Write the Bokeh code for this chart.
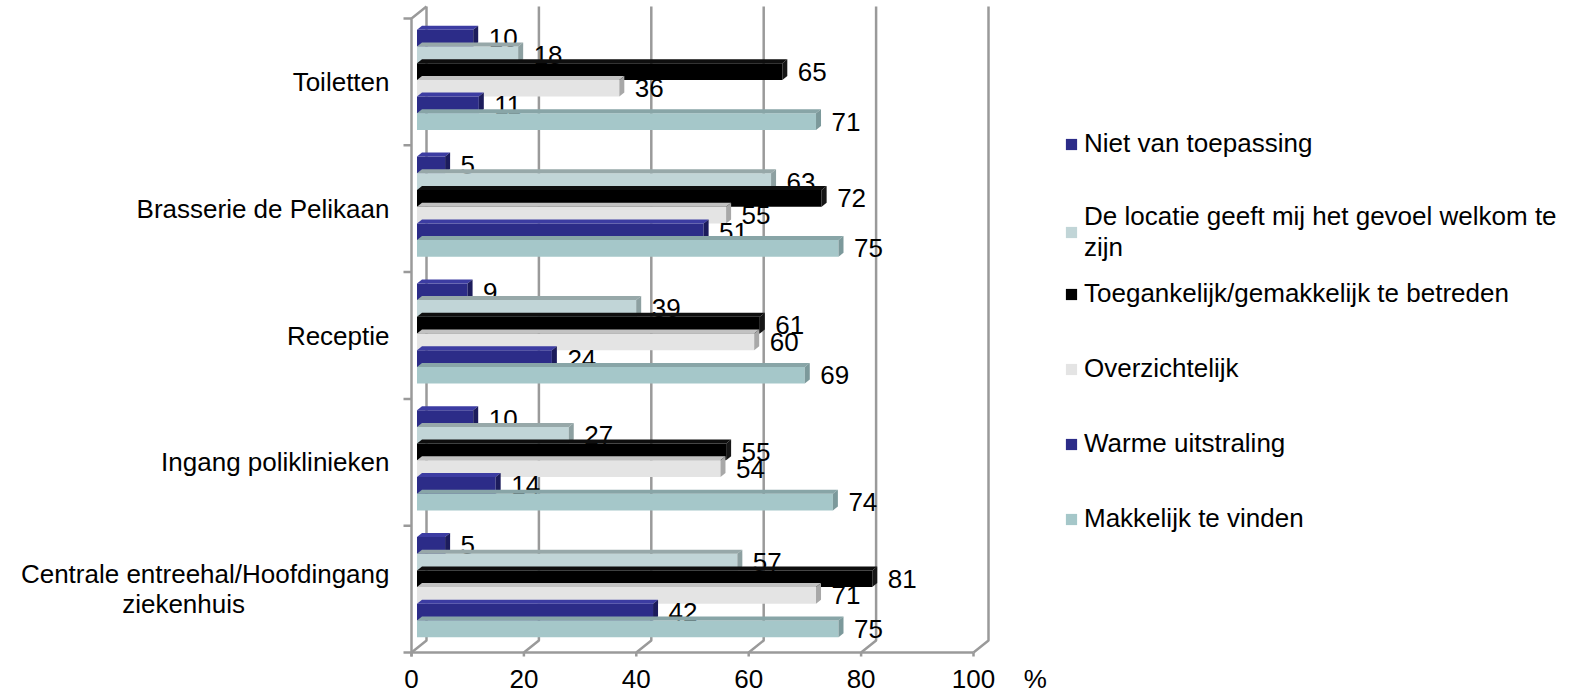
from bokeh.plotting import figure
from bokeh.models import Range1d, FixedTicker, Legend, LegendItem
from bokeh.core.properties import value
from bokeh.embed import file_html
from bokeh.resources import INLINE

# Categories, listed bottom to top on the vertical axis
NBSP = "\u00a0"
categories = [
    "Centrale entreehal/Hoofdingang\nziekenhuis" + NBSP * 20,
    "Ingang poliklinieken",
    "Receptie",
    "Brasserie de Pelikaan",
    "Toiletten",
]

# Series, listed top to bottom inside each group (same order as the legend)
series_names = [
    "Niet van toepassing",
    "De locatie geeft mij het gevoel welkom te\nzijn",
    "Toegankelijk/gemakkelijk te betreden",
    "Overzichtelijk",
    "Warme uitstraling",
    "Makkelijk te vinden",
]

# Percentages per category (same order as `categories`)
niet_van_toepassing = [5, 10, 9, 5, 10]
gevoel_welkom = [57, 27, 39, 63, 18]
toegankelijk = [81, 55, 61, 72, 65]
overzichtelijk = [71, 54, 60, 55, 36]
warme_uitstraling = [42, 14, 24, 51, 11]
makkelijk_te_vinden = [75, 74, 69, 75, 71]

series_values = [niet_van_toepassing, gevoel_welkom, toegankelijk,
                 overzichtelijk, warme_uitstraling, makkelijk_te_vinden]

x_ticks = [0, 20, 40, 60, 80, 100]
UNIT_TICK = 111          # where the "%" unit sits on the value axis

# (front, top, side) face colours for the 3-D bars
face_colors = [
    ("#2C2C88", "#3C3CA2", "#1C1C5C"),
    ("#C1D5D7", "#97A8A9", "#8DA0A1"),
    ("#000000", "#0E0E0E", "#161616"),
    ("#E4E4E4", "#C2C2C2", "#A8A8A8"),
    ("#2C2C88", "#3C3CA2", "#1C1C5C"),
    ("#A5C7C9", "#88A5A7", "#7C999B"),
]

FONT = value("Liberation Sans")
FS = value("26px")
GRID = "#9A9A9A"

# screen scale: pixels per unit on each axis
PX_X = 5.62
PX_Y = 126.8

W, H = 1585, 696
LEFT, BOTTOM = 395, 40
ZERO_X, ZERO_Y = 411, 652          # where value 0 / bottom of the first band sit

p = figure(width=W, height=H, output_backend="svg", toolbar_location=None,
           min_border_left=LEFT, min_border_right=0, min_border_top=0,
           min_border_bottom=BOTTOM,
           x_range=Range1d((LEFT - ZERO_X) / PX_X, (W - ZERO_X) / PX_X),
           y_range=Range1d(-(H - BOTTOM - ZERO_Y) / PX_Y, ZERO_Y / PX_Y))
p.outline_line_color = None
p.xgrid.visible = False
p.ygrid.visible = False
p.background_fill_color = "white"
p.border_fill_color = "white"

def dx(px):
    return px / PX_X

def dy(px):
    return px / PX_Y

# ---- box: back wall grid, floor and left wall ----
WALL_X, WALL_Y = dx(15), dy(12)
TOP = len(categories)
grid_xs, grid_ys = [], []
for v in x_ticks:
    grid_xs.append([v, v + WALL_X, v + WALL_X])
    grid_ys.append([0, WALL_Y, TOP + WALL_Y])
# front edge of the floor + front left edge of the wall
grid_xs.append([x_ticks[0], x_ticks[-1]])
grid_ys.append([0, 0])
grid_xs.append([0, 0, WALL_X])
grid_ys.append([-dy(6), TOP, TOP + WALL_Y])
# tick marks on both axes
for v in x_ticks:
    grid_xs.append([v, v])
    grid_ys.append([0, -dy(6)])
for k in range(len(categories) + 1):
    grid_xs.append([-dx(8), 0])
    grid_ys.append([k, k])
p.multi_line(grid_xs, grid_ys, line_color=GRID, line_width=2.5)

# ---- 3-D bars ----
BAR_X = dx(5.5)            # bars sit slightly behind the front plane
GROUP_Y = dy(2)
PITCH = dy(16.7)
DEPTH_X, DEPTH_Y = dx(5), dy(4)
n = len(series_names)

front_renderers = []
for j, (vals, (c_front, c_top, c_side)) in enumerate(zip(series_values, face_colors)):
    ys = [k + 0.5 + GROUP_Y + (n / 2 - 0.5 - j) * PITCH for k in range(len(categories))]
    r = p.hbar(y=ys, left=BAR_X, right=[v + BAR_X for v in vals], height=PITCH,
               fill_color=c_front, line_color=None)
    front_renderers.append(r)
    top_xs, top_ys, side_xs, side_ys = [], [], [], []
    for v, yc in zip(vals, ys):
        x0, x1 = BAR_X, v + BAR_X
        y0, y1 = yc - PITCH / 2, yc + PITCH / 2
        top_xs.append([x0, x1, x1 + DEPTH_X, x0 + DEPTH_X])
        top_ys.append([y1, y1, y1 + DEPTH_Y, y1 + DEPTH_Y])
        side_xs.append([x1, x1, x1 + DEPTH_X, x1 + DEPTH_X])
        side_ys.append([y0, y1, y1 + DEPTH_Y, y0 + DEPTH_Y])
    p.patches(top_xs, top_ys, fill_color=c_top, line_color=None)
    p.patches(side_xs, side_ys, fill_color=c_side, line_color=None)
    p.text(x=vals, y=ys, text=[str(v) for v in vals], x_offset=21,
           text_align="left", text_baseline="middle",
           text_font=FONT, text_font_size=FS, text_color="black")

# ---- axes ----
p.xaxis.ticker = FixedTicker(ticks=x_ticks + [UNIT_TICK], minor_ticks=[])
p.xaxis.major_label_overrides = {UNIT_TICK: "%"}
p.xaxis.axis_line_color = None
p.xaxis.major_tick_line_color = None
p.xaxis.minor_tick_line_color = None
p.xaxis.major_tick_out = 0
p.xaxis.major_tick_in = 0
p.xaxis.major_label_standoff = 7
p.xaxis.major_label_text_font = "Liberation Sans"
p.xaxis.major_label_text_font_size = "26px"
p.xaxis.major_label_text_color = "black"

cat_ticks = [k + 0.5 for k in range(len(categories))]
p.yaxis.ticker = FixedTicker(ticks=cat_ticks, minor_ticks=[])
p.yaxis.major_label_overrides = {t: c for t, c in zip(cat_ticks, categories)}
p.yaxis.axis_line_color = None
p.yaxis.major_tick_line_color = None
p.yaxis.minor_tick_line_color = None
p.yaxis.major_tick_out = 0
p.yaxis.major_tick_in = 0
p.yaxis.major_label_standoff = 6
p.yaxis.major_label_text_font = "Liberation Sans"
p.yaxis.major_label_text_font_size = "26px"
p.yaxis.major_label_text_color = "black"
p.yaxis.major_label_text_line_height = 0.98

# ---- legend (two blocks so the wrapped entry keeps its spacing) ----
def make_legend(idx, loc, spacing):
    lg = Legend(items=[LegendItem(label=series_names[i], renderers=[front_renderers[i]])
                       for i in idx],
                location=loc, orientation="vertical", spacing=spacing,
                glyph_width=14, glyph_height=14, label_standoff=6,
                padding=0, margin=0, border_line_color=None,
                background_fill_alpha=0,
                label_text_font="Liberation Sans", label_text_font_size="26px",
                label_text_color="black")
    p.add_layout(lg)

make_legend([0, 1], (669, 393), 42)
make_legend([2, 3, 4, 5], (669, 122), 44)

open("out.html", "w").write(file_html(p, INLINE))
